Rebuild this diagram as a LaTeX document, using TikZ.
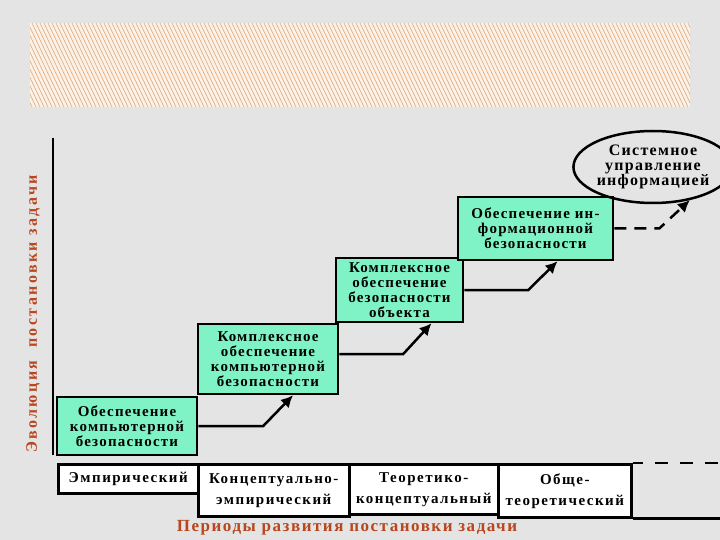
\documentclass[tikz,border=0pt]{standalone}
\usepackage{fontspec}
\setmainfont{Liberation Serif}
\newfontfamily\stagefont[LetterSpace=8]{Liberation Serif}
\newfontfamily\periodfont[LetterSpace=10]{Liberation Serif}
\newfontfamily\axisfont[LetterSpace=15]{Liberation Serif}
\newfontfamily\titlefont[LetterSpace=9]{Liberation Serif}
\usetikzlibrary{arrows.meta, shapes.geometric}

\definecolor{mint}{HTML}{7FF2C6}
\definecolor{rust}{HTML}{B8461E}
\definecolor{paper}{HTML}{E4E4E4}
\definecolor{cream}{HTML}{FCF1E4}
\definecolor{tan}{HTML}{D8AA86}

\begin{document}
\begin{tikzpicture}[x=1pt,y=-1pt]

\tikzset{stage/.style = {shape=rectangle,draw,line width=2.5pt,fill=mint,align=center,inner sep=0pt,font=\stagefont\bfseries\fontsize{15}{15}\selectfont}}
\tikzset{period/.style = {shape=rectangle,draw,line width=2.5pt,fill=white,align=center,inner sep=0pt,anchor=north west,font=\periodfont\bfseries\fontsize{15}{21}\selectfont}}
\tikzset{flow/.style = {-{Latex[length=12pt,width=12pt]},line width=2.5pt}}

% background
\useasboundingbox (0,0) rectangle (720,540);
\fill[paper] (0,0) rectangle (720,540);
\fill[cream] (30,23) rectangle (690,107);
\begin{scope}
\clip (30,23) rectangle (690,107);
\foreach \x in {-20,-16,...,690}
  \draw[tan, line width=0.6pt] (\x,23) -- (\x+40,107);
\end{scope}

% axis
\draw[line width=2.5pt] (53,138) -- (53,455);
\node[rotate=90, text=rust, font=\axisfont\bfseries\fontsize{16}{16}\selectfont] (ylab) at (33,314) {Эволюция\ \ постановки задачи};

% stages
\node[stage, minimum width=140pt, minimum height=58pt] (s1) at (127,426) {Обеспечение\\компьютерной\\безопасности};
\node[stage, minimum width=140pt, minimum height=70pt] (s2) at (268,359) {Комплексное\\обеспечение\\компьютерной\\безопасности};
\node[stage, minimum width=127pt, minimum height=64pt] (s3) at (399.5,290) {Комплексное\\обеспечение\\безопасности\\объекта};
\node[stage, minimum width=155pt, minimum height=63pt] (s4) at (535.5,228.5) {Обеспечение ин-\\формационной\\безопасности};
\node[ellipse, draw, line width=2.5pt, minimum width=132pt, minimum height=72pt, inner sep=0pt, align=center, font=\stagefont\bfseries\fontsize{16}{15}\selectfont] (goal) at (653,167) {Системное\\управление\\информацией};

% periods
\node[period, minimum width=140pt, minimum height=29pt] (p1) at (57,463) {Эмпирический};
\node[period, minimum width=151pt, minimum height=52pt] (p2) at (197,463) {Концептуально-\\эмпирический};
\node[period, minimum width=149pt, minimum height=50pt] (p3) at (348,463) {Теоретико-\\концептуальный};
\node[period, minimum width=133pt, minimum height=53pt] (p4) at (497,463) {Обще-\\теоретический};
\coordinate (top) at (720,463);
\coordinate (bot) at (720,516);
\draw[line width=2.5pt] (p4.north east) -- ++(10,0) coordinate (d0);
\draw[line width=2.5pt, dash pattern=on 13pt off 12pt] (d0) ++(12,0) -- (d0 -| top);
\draw[line width=2.5pt] (p4.south east) -- (p4.south east -| bot);
\node[text=rust, font=\titlefont\bfseries\fontsize{17}{17}\selectfont] (xlab) at (347,528) {Периоды развития постановки задачи};

%edges
\draw[flow] (s1.east) -- ++(65,0) -- ([xshift=25pt]s2.south);
\draw[flow] ([yshift=5pt]s2.east) -- ++(64,0) -- ([xshift=32pt]s3.south);
\draw[flow] (s3.east) -- ++(64,0) -- ([xshift=22pt]s4.south);
\draw[flow, dash pattern=on 12pt off 8pt] (s4.east) -- ++(45,0) -- (goal.-42);

\end{tikzpicture}
\end{document}
